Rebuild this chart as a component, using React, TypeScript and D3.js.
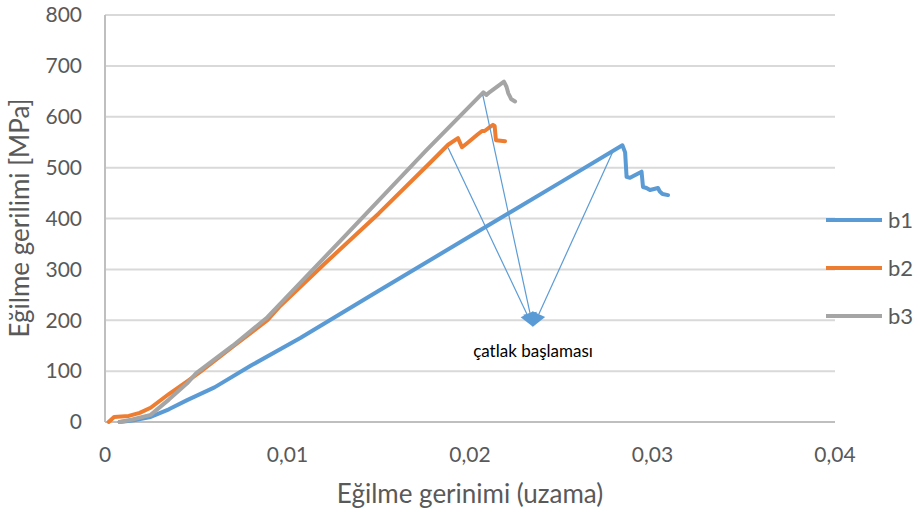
import React from "react";
import * as d3 from "d3";

const b1Strain = [0.0008, 0.0015, 0.0025, 0.0035, 0.0045, 0.006, 0.008, 0.0107, 0.015, 0.02, 0.025, 0.02835, 0.0285, 0.02858, 0.02877, 0.0294, 0.02948, 0.02967, 0.02986, 0.0303, 0.0304, 0.03055, 0.03085];
const b1Stress = [0, 3, 10, 25, 43, 68, 111, 165, 258, 365, 472, 544, 530, 482, 480, 492, 462, 460, 456, 460, 453, 448, 446];

const b2Strain = [0.0002, 0.0005, 0.0009, 0.0013, 0.0019, 0.0025, 0.0035, 0.0045, 0.0052, 0.007, 0.0089, 0.0096, 0.012, 0.015, 0.0178, 0.0188, 0.01934, 0.01956, 0.01984, 0.02038, 0.02066, 0.0208, 0.0211, 0.02126, 0.02135, 0.02142, 0.02192];
const b2Stress = [0, 10, 11, 12, 18, 28, 55, 80, 98, 148, 200, 228, 310, 410, 509, 545, 558, 540, 548, 564, 572, 572, 580, 584, 582, 554, 552];

const b3Strain = [0.0008, 0.0015, 0.0025, 0.0035, 0.0045, 0.005, 0.007, 0.0089, 0.0097, 0.013, 0.0176, 0.02073, 0.0209, 0.0211, 0.02186, 0.022, 0.0221, 0.0222, 0.02225, 0.02247];
const b3Stress = [0, 5, 14, 44, 76, 96, 150, 206, 236, 360, 534, 648, 643, 649, 669, 659, 646, 639, 635, 630];

const seriesNames = ["b1", "b2", "b3"];
const seriesColors = ["#5B9BD5", "#ED7D31", "#A5A5A5"];

const xTicks = [0, 0.01, 0.02, 0.03, 0.04];
const xTickLabels = ["0", "0,01", "0,02", "0,03", "0,04"];
const yTicks = [0, 100, 200, 300, 400, 500, 600, 700, 800];

// crack initiation annotation: arrow sources (strain, stress) and common tip
const crackSrcStrain = [0.0188, 0.0207, 0.0278];
const crackSrcStress = [539, 643, 529];
const crackTip = [0.02345, 187];
const crackLabel = "çatlak başlaması";

const xTitle = "Eğilme gerinimi (uzama)";
const yTitle = "Eğilme gerilimi [MPa]";

export default function App() {
  const W = 920, H = 514;
  const x = d3.scaleLinear().domain([0, 0.04]).range([105, 835]);
  const y = d3.scaleLinear().domain([0, 800]).range([422, 15]);
  const line = d3.line<[number, number]>().x(d => x(d[0])).y(d => y(d[1]));
  const series = [
    d3.zip(b1Strain, b1Stress) as [number, number][],
    d3.zip(b2Strain, b2Stress) as [number, number][],
    d3.zip(b3Strain, b3Stress) as [number, number][],
  ];
  const font = "Lato, 'Open Sans', sans-serif";
  const tx = x(crackTip[0]), ty = y(crackTip[1]);
  const heads = crackSrcStrain.map((s, i) => {
    const sx = x(s), sy = y(crackSrcStress[i]);
    const dx = tx - sx, dy = ty - sy;
    const len = Math.hypot(dx, dy);
    const ux = dx / len, uy = dy / len;
    const hl = 14, hw = 7;
    const bx = tx - ux * hl, by = ty - uy * hl;
    const px = -uy, py = ux;
    return { sx, sy, bx, by, pts: `${tx},${ty} ${bx + px * hw},${by + py * hw} ${bx - px * hw},${by - py * hw}` };
  });
  const legendY = [220, 268, 316];
  return (
    <svg width={W} height={H} style={{ position: "absolute", left: 0, top: 0, background: "#fff" }} fontFamily={font}>
      {yTicks.map(t => (
        <line key={"g" + t} x1={x(0)} x2={x(0.04)} y1={y(t)} y2={y(t)} stroke="#D9D9D9" strokeWidth={2} />
      ))}
      <line x1={x(0)} x2={x(0)} y1={y(800)} y2={y(0)} stroke="#BFBFBF" strokeWidth={2} />
      <line x1={x(0)} x2={x(0.04)} y1={y(0)} y2={y(0)} stroke="#BFBFBF" strokeWidth={2} />
      {yTicks.map(t => (
        <text key={"yl" + t} x={82} y={y(t)} dy="0.35em" textAnchor="end" fontSize={21} fill="#595959">{t}</text>
      ))}
      {xTicks.map((t, i) => (
        <text key={"xl" + t} x={x(t)} y={455} dy="0.35em" textAnchor="middle" fontSize={21} fill="#595959">{xTickLabels[i]}</text>
      ))}
      {series.map((d, i) => (
        <path key={"s" + i} d={line(d) || ""} fill="none" stroke={seriesColors[i]} strokeWidth={4} strokeLinejoin="round" strokeLinecap="round" />
      ))}
      {heads.map((h, i) => (
        <g key={"a" + i}>
          <line x1={h.sx} y1={h.sy} x2={h.bx} y2={h.by} stroke="#5B9BD5" strokeWidth={1.2} />
          <polygon points={h.pts} fill="#5B9BD5" />
        </g>
      ))}
      <text x={533} y={351} dy="0.35em" textAnchor="middle" fontSize={17} fill="#000">{crackLabel}</text>
      {seriesNames.map((n, i) => (
        <g key={"lg" + i}>
          <line x1={826} x2={882} y1={legendY[i]} y2={legendY[i]} stroke={seriesColors[i]} strokeWidth={4} />
          <text x={888} y={legendY[i]} dy="0.35em" fontSize={22} fill="#595959">{n}</text>
        </g>
      ))}
      <text x={470} y={494} dy="0.35em" textAnchor="middle" fontSize={26} fill="#595959">{xTitle}</text>
      <text transform={`translate(20,218) rotate(-90)`} dy="0.35em" textAnchor="middle" fontSize={26} fill="#595959">{yTitle}</text>
    </svg>
  );
}
